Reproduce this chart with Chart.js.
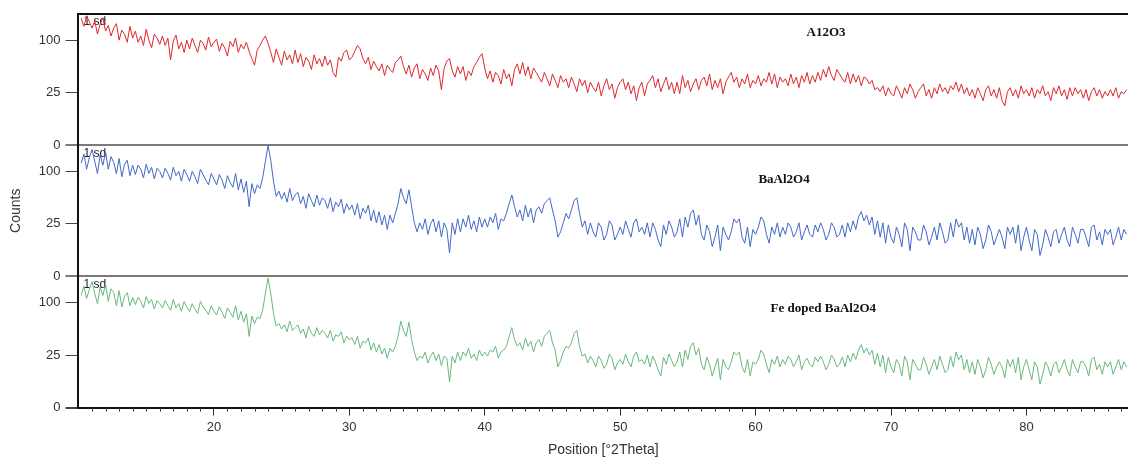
<!DOCTYPE html>
<html><head><meta charset="utf-8">
<script src="https://cdn.jsdelivr.net/npm/chart.js@4.4.1/dist/chart.umd.min.js"></script>
<style>html,body{margin:0;padding:0;background:#fff;}canvas{display:block;}</style>
</head><body>
<canvas id="c" width="1128" height="459"></canvas>
<script>
// Scan positions (°2Theta): regular scan grid
const X_START = 10.2, X_STEP = 0.2;
const X_MIN = 10, X_MAX = 87.5;
const Y_MAX = 156;
const yTickValues = [0, 25, 100];

const sampleNames = ['A12O3', 'BaAl2O4', 'Fe doped BaAl2O4'];
const sampleLabelPos = [[65.2, 114], [62.1, 84], [65.0, 89]]; // [°2Theta, counts]

const al2o3 = [
146,128,152,138,124,140,112,133,147,118,
130,108,124,134,100,120,112,96,128,104,
118,96,108,90,122,100,86,112,104,92,
108,90,104,66,98,110,84,96,78,100,
84,104,90,78,100,94,82,106,88,96,
102,80,94,86,72,98,88,104,78,92,
84,96,80,68,58,82,90,100,108,94,
78,62,84,70,58,80,66,74,60,82,
62,76,56,70,64,52,74,60,68,56,
72,58,66,48,42,70,64,78,82,66,
70,80,90,84,68,60,70,52,64,56,
50,60,44,58,52,48,62,66,72,56,
46,58,42,54,60,40,52,46,38,54,
44,58,50,28,54,64,68,50,42,56,
46,56,38,50,44,56,62,70,76,54,
40,50,36,48,44,34,52,40,46,32,
52,60,46,62,44,56,40,54,48,42,
36,48,40,32,46,38,30,44,36,40,
30,42,34,26,40,32,38,25,36,30,
26,36,22,32,40,28,34,20,30,36,
40,28,36,24,32,18,30,36,22,34,
38,44,30,40,26,34,42,28,36,24,
36,24,44,30,38,26,34,40,28,38,
42,32,46,28,38,30,40,24,36,42,
48,36,42,30,40,34,46,30,38,34,
44,32,40,36,48,34,46,30,42,36,
40,32,46,34,42,30,44,36,48,34,
44,36,48,38,52,42,56,44,38,52,
46,40,36,48,34,46,36,44,32,42,
40,34,38,28,30,26,32,22,30,24,
22,32,26,20,30,24,34,28,20,26,
30,34,22,28,20,30,24,34,26,30,
24,32,28,36,26,34,24,30,22,28,
20,30,24,18,28,32,22,28,20,30,
18,14,26,30,22,28,20,32,24,28,
22,30,20,28,24,32,22,26,18,30,
24,32,22,28,19,30,22,30,24,28,
20,28,18,26,30,22,28,20,26,22,
28,22,30,20,26,24,28
];

const baal2o4 = [
116,136,104,128,146,120,96,134,112,140,
104,130,118,96,126,90,114,122,92,112,
94,112,104,88,114,96,108,86,106,100,
88,106,96,84,108,92,100,82,104,94,
82,100,90,78,104,94,84,76,96,86,
76,94,84,70,92,80,72,96,68,86,
64,82,44,78,62,76,70,88,120,155,
122,82,58,66,54,64,50,70,52,60,
64,48,58,42,62,52,44,60,46,56,
52,42,56,38,50,44,54,36,48,40,
46,34,48,30,42,36,46,28,40,26,
38,24,34,20,34,26,36,48,70,56,
48,68,44,26,18,26,20,30,16,25,
30,18,28,14,26,20,5,26,16,30,
18,30,22,34,20,28,18,32,22,30,
22,32,26,36,20,30,28,36,48,60,
44,32,40,28,46,32,42,26,40,44,
36,48,52,56,40,28,14,18,26,36,
30,40,52,56,36,22,28,16,26,18,
14,26,22,12,16,28,24,12,16,22,
16,28,20,14,26,30,18,22,16,26,
14,26,20,12,8,24,16,28,22,14,
18,30,14,32,22,36,40,24,34,16,
12,24,18,8,14,24,6,22,16,12,
18,30,26,30,14,10,22,8,20,16,
22,32,28,16,10,22,16,26,14,22,
16,26,22,14,18,26,12,18,24,16,
14,24,18,26,20,12,16,26,22,14,
16,24,14,26,18,28,20,32,38,28,
34,24,32,16,28,14,26,10,24,14,
10,22,16,8,26,20,6,22,18,12,
12,24,18,9,14,22,12,26,18,10,
12,26,14,30,22,26,12,22,10,20,
9,22,16,7,12,24,18,9,14,20,
14,7,22,16,22,10,24,6,14,22,
12,6,20,16,4,9,20,14,8,18,
20,10,16,22,12,8,22,16,10,20,
20,14,8,22,24,12,18,9,20,16,
20,9,14,22,12,20,16
];

const feBaal2o4 = [
114,134,108,126,144,118,98,132,114,138,
102,128,120,94,124,92,112,120,94,110,
96,110,102,90,112,98,106,88,104,98,
90,104,94,86,106,90,98,84,102,92,
84,98,88,80,102,92,86,78,94,84,
78,92,82,72,90,82,74,94,70,84,
66,80,46,76,64,74,72,86,118,152,
118,80,60,64,56,62,52,68,54,58,
62,50,56,44,60,50,46,58,48,54,
50,44,54,40,48,46,52,38,46,42,
44,36,46,32,40,38,44,30,38,28,
36,26,32,22,32,28,34,46,68,54,
46,66,42,28,20,24,22,28,18,24,
28,20,26,16,24,22,6,24,18,28,
20,28,24,32,22,26,20,30,24,28,
24,30,28,34,22,28,30,34,46,58,
42,34,38,30,44,34,40,28,38,42,
34,46,50,54,38,30,15,20,28,34,
32,38,50,54,34,24,26,18,24,20,
15,24,20,14,17,26,22,13,18,21,
17,26,19,15,24,28,19,21,17,25,
15,24,19,13,9,23,17,26,20,15,
19,28,15,30,21,34,38,25,32,17,
13,23,17,9,15,22,7,21,15,13,
19,28,25,28,15,11,21,9,19,17,
21,30,26,17,11,21,17,24,15,21,
17,24,21,15,19,25,13,19,22,17,
15,23,19,24,19,13,17,25,21,15,
17,23,15,25,19,27,21,30,36,27,
32,25,30,17,27,15,25,11,23,15,
11,21,17,9,24,19,7,21,17,13,
13,23,17,10,15,21,13,24,17,11,
13,24,15,28,21,25,13,21,11,19,
10,21,15,8,13,23,17,10,15,19,
15,8,21,15,21,11,23,7,15,21,
13,7,19,15,5,10,19,15,9,17,
19,11,15,21,13,9,21,15,11,19,
19,15,9,21,23,13,17,10,19,15,
19,10,15,21,13,19,15
];

const positions = al2o3.map((_, i) => +(X_START + i * X_STEP).toFixed(1));
const xTickValues = [];
for (let v = 11; v <= 87; v++) xTickValues.push(v);

// Square-root count axis
class SqrtScale extends Chart.LinearScale {
  getPixelForValue(value) {
    const lo = Math.sqrt(Math.max(0, this.min)), hi = Math.sqrt(this.max);
    const s = Math.sqrt(Math.max(0, value));
    return this.getPixelForDecimal((s - lo) / (hi - lo));
  }
  getValueForPixel(pixel) {
    const lo = Math.sqrt(Math.max(0, this.min)), hi = Math.sqrt(this.max);
    const s = lo + this.getDecimalForPixel(pixel) * (hi - lo);
    return s * s;
  }
}
SqrtScale.id = 'sqrt';
SqrtScale.defaults = Chart.LinearScale.defaults;
Chart.register(SqrtScale);

const FONT = "'Liberation Sans', Arial, sans-serif";
const toXY = arr => arr.map((v, i) => ({x: positions[i], y: v}));

function yAxis(titleText, sepLine) {
  return {
    type: 'sqrt', position: 'left', stack: 'panels', stackWeight: 1,
    min: 0, max: Y_MAX, offset: false,
    afterBuildTicks: ax => { ax.ticks = yTickValues.map(v => ({value: v})); },
    ticks: { font: {family: FONT, size: 13}, color: '#333', padding: 5, callback: v => String(v) },
    grid: {
      drawOnChartArea: sepLine,
      color: ctx => (ctx.tick && ctx.tick.value === 0) ? '#7a7a7a' : 'rgba(0,0,0,0)',
      lineWidth: ctx => (ctx.tick && ctx.tick.value === 0) ? 2 : 1,
      tickColor: ctx => (ctx.tick && ctx.tick.value === 0 && sepLine) ? '#7a7a7a' : '#444',
      tickLength: 13
    },
    border: { display: true, color: '#111', width: 2 },
    title: { display: true, text: titleText, font: {family: FONT, size: 14}, color: '#333', padding: {top: 5, bottom: 9} }
  };
}

const decorPlugin = {
  id: 'decor',
  beforeDatasetsDraw(chart) {
    const ctx = chart.ctx;
    ctx.save();
    ctx.font = "12px " + FONT;
    ctx.fillStyle = '#222';
    ctx.textBaseline = 'top';
    ['yA', 'yB', 'yC'].forEach(id => {
      const s = chart.scales[id];
      ctx.fillText('1 sd', chart.chartArea.left + 5, s.top + 2);
    });
    ctx.restore();
  },
  afterDraw(chart) {
    const ctx = chart.ctx, xs = chart.scales.x, area = chart.chartArea;
    ctx.save();
    ctx.strokeStyle = '#333'; ctx.lineWidth = 1;
    xs.ticks.forEach(t => {
      if (t.value % 10 !== 0) {
        const px = Math.round(xs.getPixelForValue(t.value)) + 0.5;
        ctx.beginPath(); ctx.moveTo(px, xs.top); ctx.lineTo(px, xs.top + 4); ctx.stroke();
      }
    });
    ctx.strokeStyle = '#111'; ctx.lineWidth = 2;
    ctx.beginPath(); ctx.moveTo(area.left - 1, area.top); ctx.lineTo(area.right, area.top); ctx.stroke();
    ctx.font = "bold 13px 'Liberation Serif', 'Times New Roman', serif";
    ctx.fillStyle = '#111'; ctx.textAlign = 'center'; ctx.textBaseline = 'middle';
    ['yA', 'yB', 'yC'].forEach((id, i) => {
      const p = sampleLabelPos[i];
      ctx.fillText(sampleNames[i], xs.getPixelForValue(p[0]), chart.scales[id].getPixelForValue(p[1]));
    });
    ctx.restore();
  }
};

new Chart(document.getElementById('c'), {
  type: 'line',
  data: {
    datasets: [
      { label: sampleNames[0], data: toXY(al2o3), yAxisID: 'yA', borderColor: 'rgb(222,40,44)', borderWidth: 1, pointRadius: 0, tension: 0 },
      { label: sampleNames[1], data: toXY(baal2o4), yAxisID: 'yB', borderColor: 'rgb(66,104,200)', borderWidth: 1, pointRadius: 0, tension: 0 },
      { label: sampleNames[2], data: toXY(feBaal2o4), yAxisID: 'yC', borderColor: 'rgb(104,184,124)', borderWidth: 1, pointRadius: 0, tension: 0 }
    ]
  },
  options: {
    responsive: false, animation: false, devicePixelRatio: 1,
    layout: { padding: { left: 3, top: 14, right: 0, bottom: 0 } },
    plugins: { legend: { display: false }, tooltip: { enabled: false } },
    scales: {
      x: {
        type: 'linear', position: 'bottom', min: X_MIN, max: X_MAX,
        afterBuildTicks: ax => { ax.ticks = xTickValues.map(v => ({value: v})); },
        ticks: { autoSkip: false, maxRotation: 0, font: {family: FONT, size: 13}, color: '#333', padding: 4,
                 callback: v => (v % 10 === 0 ? String(v) : '') },
        grid: { drawOnChartArea: false, tickLength: 8,
                tickColor: ctx => (ctx.tick && ctx.tick.value % 10 === 0) ? '#333' : 'rgba(0,0,0,0)' },
        border: { display: true, color: '#111', width: 2 },
        title: { display: true, text: 'Position [°2Theta]', font: {family: FONT, size: 14}, color: '#333', padding: {top: 3, bottom: 0} }
      },
      yC: yAxis(' ', false),
      yB: yAxis('Counts', true),
      yA: yAxis(' ', true)
    }
  },
  plugins: [decorPlugin]
});
</script>
</body></html>
